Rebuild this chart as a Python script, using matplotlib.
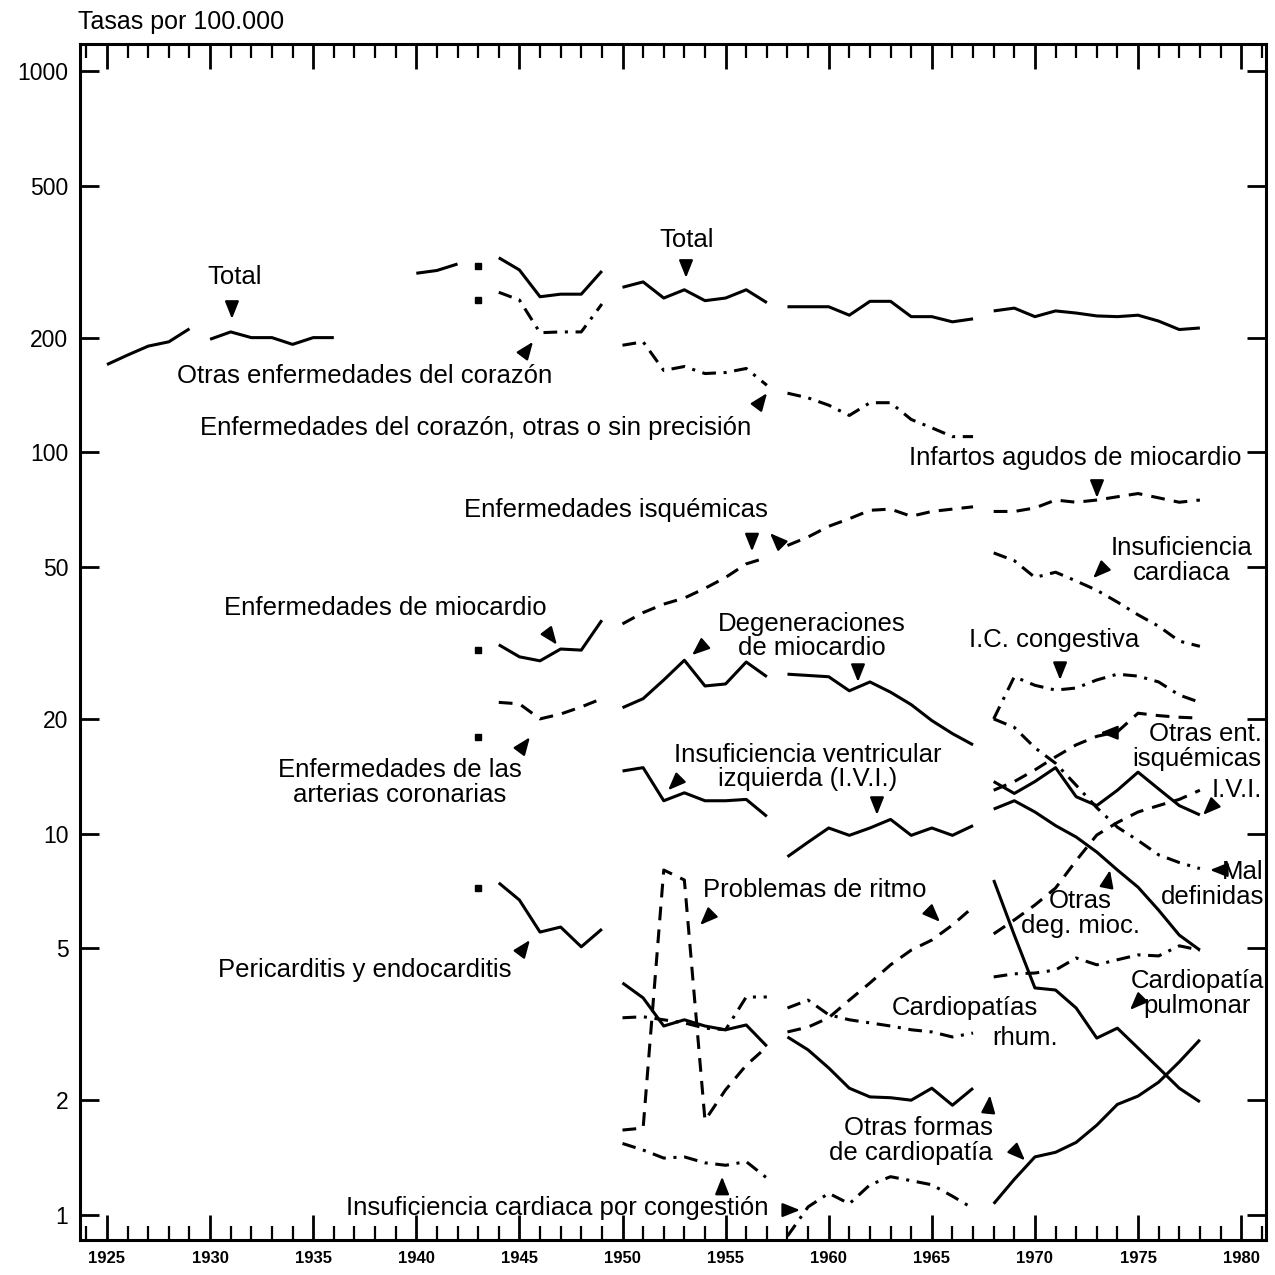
import matplotlib
matplotlib.use('Agg')
from matplotlib import pyplot as plt
from matplotlib.ticker import NullLocator

plt.rcParams['font.family'] = ['Liberation Sans', 'DejaVu Sans']

# periods: the series break at every revision of the classification
yrs_25 = [1925, 1926, 1927, 1928, 1929]
yrs_30 = [1930, 1931, 1932, 1933, 1934, 1935, 1936]
yrs_40 = [1940, 1941, 1942]
yrs_44 = [1944, 1945, 1946, 1947, 1948, 1949]
yrs_50 = [1950, 1951, 1952, 1953, 1954, 1955, 1956, 1957]
yrs_58 = [1958, 1959, 1960, 1961, 1962, 1963, 1964, 1965, 1966, 1967]
yrs_68 = [1968, 1969, 1970, 1971, 1972, 1973, 1974, 1975, 1976, 1977, 1978]

# 1943 isolated points (marked with small squares)
yr_1943 = 1943
vals_1943 = [308, 251, 30.3, 17.9, 7.2]

# Total
total_25 = [170, 180, 190, 195, 211]
total_30 = [198, 207, 200, 200, 192, 200, 200]
total_40 = [295, 300, 312]
total_44 = [324, 301, 256, 260, 260, 299]
total_50 = [271, 280, 254, 267, 250, 254, 267, 247]
total_58 = [241, 241, 241, 229, 249, 249, 227, 227, 220, 224]
total_68 = [235, 239, 227, 235, 232, 228, 227, 229, 221, 210, 212]

# dash-dot series
otras_corazon_44 = [263, 251, 206, 207, 207, 245]
sin_precision_50 = [191, 195, 164, 168, 161, 162, 166, 150]
sin_precision_58 = [143, 139, 133, 125, 135, 135, 122, 116, 110, 110]
insuf_cardiaca_68 = [54.5, 52, 47, 48.5, 46, 43.5, 40.5, 37.5, 35, 32, 31]
ic_congestiva_68 = [20, 25.8, 24.5, 23.8, 24.1, 25.3, 26.2, 25.9, 25, 23.1, 22.1]
mal_definidas_68 = [20, 19.0, 16.8, 15.3, 13.4, 11.7, 10.4, 9.6, 8.8, 8.4, 8.1]
rhum_50 = [3.29, 3.31, 3.25, 3.19, 3.09, 3.06, 3.73, 3.73]
rhum_58 = [3.49, 3.66, 3.35, 3.25, 3.19, 3.13, 3.06, 3.02, 2.93, 3.0]
rhum_68 = [4.21, 4.29, 4.31, 4.39, 4.72, 4.53, 4.67, 4.81, 4.78, 5.08, 4.95]
congestion_50 = [1.54, 1.48, 1.41, 1.42, 1.37, 1.35, 1.38, 1.25]
congestion_58 = [0.88, 1.05, 1.14, 1.07, 1.2, 1.26, 1.23, 1.2, 1.12, 1.04]

# dashed series
coronarias_44 = [22.1, 21.9, 20.0, 20.6, 21.5, 22.6]
isquemicas_50 = [35.5, 38, 40, 41.5, 44, 47, 51, 53]
isquemicas_58 = [57, 60, 64, 67, 70.5, 71, 68, 70, 71, 72]
infartos_68 = [70, 70, 71.5, 75, 74, 75, 76.5, 78, 76, 74, 75]
otras_isq_68 = [13.0, 13.7, 14.7, 15.9, 17.1, 18.0, 18.5, 20.7, 20.4, 20.2, 20.1]
ritmo_50 = [1.67, 1.69, 8.03, 7.56, 1.77, 2.13, 2.47, 2.76]
ritmo_58 = [3.02, 3.11, 3.29, 3.66, 4.06, 4.53, 4.95, 5.26, 5.76, 6.42]
ritmo_68 = [5.46, 5.94, 6.5, 7.2, 8.5, 9.92, 10.7, 11.4, 11.85, 12.3, 13.0]

# solid series
miocardio_44 = [31.3, 29.1, 28.4, 30.5, 30.3, 36.3]
pericarditis_44 = [7.43, 6.7, 5.52, 5.69, 5.05, 5.62]
degener_50 = [21.4, 22.6, 25.3, 28.5, 24.4, 24.7, 28.2, 25.8]
degener_58 = [26.2, 26.0, 25.8, 23.7, 25.0, 23.5, 21.8, 19.8, 18.3, 17.1]
ivi_50 = [14.6, 14.9, 12.2, 12.8, 12.2, 12.2, 12.3, 11.1]
ivi_58 = [8.7, 9.5, 10.35, 9.9, 10.35, 10.9, 9.9, 10.35, 9.9, 10.5]
ivi_68 = [13.7, 12.75, 13.7, 14.9, 12.5, 11.85, 13.0, 14.5, 13.1, 11.85, 11.2]
otras_deg_68 = [11.6, 12.2, 11.4, 10.5, 9.8, 8.95, 8.03, 7.24, 6.3, 5.42, 4.95]
pulmonar_68 = [7.56, 5.42, 3.94, 3.89, 3.49, 2.91, 3.09, 2.74, 2.43, 2.15, 1.98]
otras_formas_50 = [4.06, 3.71, 3.13, 3.25, 3.13, 3.06, 3.15, 2.77]
otras_formas_58 = [2.93, 2.71, 2.43, 2.15, 2.04, 2.03, 2.0, 2.15, 1.94, 2.15]
otras_formas_68 = [1.07, 1.24, 1.42, 1.46, 1.55, 1.72, 1.95, 2.05, 2.23, 2.52, 2.88]

ytick_vals = [1, 2, 5, 10, 20, 50, 100, 200, 500, 1000]

SOLID = '-'
DASH = (0, (4.5, 3))
DASHDOT = (0, (4.5, 2.5, 1, 2.5))
LW = 2.2

fig = plt.figure(figsize=(12.75, 12.75), dpi=100)
ax = fig.add_axes([0.0624, 0.0275, 0.9306, 0.938])
ax.set_yscale('log')
ax.set_xlim(1923.67, 1981.21)
ax.set_ylim(0.86, 1178)

def line(x, y, style):
    ax.plot(x, y, color='k', lw=LW, linestyle=style, solid_capstyle='butt',
            dash_capstyle='butt')

for x, y in [(yrs_25, total_25), (yrs_30, total_30), (yrs_40, total_40),
             (yrs_44, total_44), (yrs_50, total_50), (yrs_58, total_58),
             (yrs_68, total_68), (yrs_44, miocardio_44), (yrs_44, pericarditis_44),
             (yrs_50, degener_50), (yrs_58, degener_58), (yrs_50, ivi_50),
             (yrs_58, ivi_58), (yrs_68, ivi_68), (yrs_68, otras_deg_68),
             (yrs_68, pulmonar_68), (yrs_50, otras_formas_50),
             (yrs_58, otras_formas_58), (yrs_68, otras_formas_68)]:
    line(x, y, SOLID)

for x, y in [(yrs_44, coronarias_44), (yrs_50, isquemicas_50), (yrs_58, isquemicas_58),
             (yrs_68, infartos_68), (yrs_68, otras_isq_68), (yrs_50, ritmo_50),
             (yrs_58, ritmo_58), (yrs_68, ritmo_68)]:
    line(x, y, DASH)

for x, y in [(yrs_44, otras_corazon_44), (yrs_50, sin_precision_50),
             (yrs_58, sin_precision_58), (yrs_68, insuf_cardiaca_68),
             (yrs_68, ic_congestiva_68), (yrs_68, mal_definidas_68),
             (yrs_50, rhum_50), (yrs_58, rhum_58), (yrs_68, rhum_68),
             (yrs_50, congestion_50), (yrs_58, congestion_58)]:
    line(x, y, DASHDOT)

ax.plot([yr_1943] * len(vals_1943), vals_1943, linestyle='none', marker='s',
        markersize=5, color='k')

# labels
FS = 18.5
def label(x, y, s, ha='center'):
    ax.text(x, y, s, ha=ha, va='center', fontsize=FS, linespacing=1.05)

label(1931.21, 288, 'Total')
label(1953.13, 360, 'Total')
label(1937.51, 158.6, 'Otras enfermedades del corazón')
label(1942.9, 115.9, 'Enfermedades del corazón, otras o sin precisión')
label(1971.94, 96.7, 'Infartos agudos de miocardio')
label(1949.69, 70.6, 'Enfermedades isquémicas')
label(1977.13, 52.2, 'Insuficiencia\ncardiaca')
label(1938.48, 39.1, 'Enfermedades de miocardio')
label(1959.19, 33.0, 'Degeneraciones\nde miocardio')
label(1970.93, 32.2, 'I.C. congestiva')
label(1981.0, 16.9, 'Otras ent.\nisquémicas', ha='right')
label(1939.21, 13.66, 'Enfermedades de las\narterias coronarias')
label(1959.0, 14.96, 'Insuficiencia ventricular\nizquierda (I.V.I.)')
label(1981.0, 13.02, 'I.V.I.', ha='right')
label(1981.1, 7.34, 'Mal\ndefinidas', ha='right')
label(1972.19, 6.19, 'Otras\ndeg. mioc.')
label(1959.34, 7.12, 'Problemas de ritmo')
label(1937.51, 4.39, 'Pericarditis y endocarditis')
label(1977.86, 3.80, 'Cardiopatía\npulmonar')
label(1966.61, 3.49, 'Cardiopatías')
label(1969.52, 2.91, 'rhum.')
label(1967.97, 1.57, 'Otras formas\nde cardiopatía', ha='right')
label(1946.82, 1.04, 'Insuficiencia cardiaca por congestión')

# small arrowheads pointing at the curves
def arrow(x, y, dx, dy):
    ax.annotate('', xy=(x, y), xytext=(-dx * 12, -dy * 12), textcoords='offset points',
                arrowprops=dict(arrowstyle='-|>,head_length=1.05,head_width=0.42',
                                color='k', lw=1.6, shrinkA=0, shrinkB=0))

arrow(1931.06, 224, 0, -1)
arrow(1945.66, 195, 0.6, 0.8)
arrow(1953.08, 287, 0, -1)
arrow(1957.01, 143, 0.6, 0.8)
arrow(1973.01, 76, 0, -1)
arrow(1956.28, 55, 0, -1)
arrow(1957.15, 61.4, -0.7, 0.7)
arrow(1972.82, 46.8, -0.7, -0.7)
arrow(1946.82, 31.3, 0.6, -0.8)
arrow(1953.37, 29.4, -0.75, -0.65)
arrow(1961.42, 25.0, 0, -1)
arrow(1971.22, 25.3, 0, -1)
arrow(1973.16, 18.4, -1, 0)
arrow(1978.15, 11.2, -0.7, -0.7)
arrow(1978.49, 8.03, -1, 0)
arrow(1973.64, 8.03, 0.2, 1)
arrow(1974.61, 3.45, -0.7, -0.7)
arrow(1945.51, 17.9, 0.6, 0.8)
arrow(1952.21, 13.0, -0.7, -0.7)
arrow(1962.34, 11.2, 0, -1)
arrow(1953.76, 5.76, -0.7, -0.7)
arrow(1965.40, 5.87, 0.7, -0.7)
arrow(1945.51, 5.26, 0.6, 0.8)
arrow(1967.82, 2.06, 0.1, 1)
arrow(1969.52, 1.39, 0.7, -0.7)
arrow(1954.83, 1.26, 0, 1)
arrow(1958.61, 1.03, 1, 0)

# axes and ticks
ax.set_xticks(list(range(1925, 1981, 5)))
ax.set_xticks(list(range(1924, 1982)), minor=True)
ax.set_xticklabels([str(y) for y in range(1925, 1981, 5)], fontsize=12,
                   fontweight='bold')
ax.set_yticks(ytick_vals)
ax.set_yticklabels([str(v) for v in ytick_vals], fontsize=16.5)
ax.yaxis.set_minor_locator(NullLocator())
ax.tick_params(axis='x', which='major', direction='in', length=18, width=2,
               top=True, bottom=True, pad=8)
ax.tick_params(axis='x', which='minor', direction='in', length=10, width=1.6,
               top=True, bottom=True)
ax.tick_params(axis='y', which='major', direction='in', length=14, width=2,
               left=True, right=True, pad=8)
for sp in ax.spines.values():
    sp.set_linewidth(2.2)

fig.text(0.0612, 0.9827, 'Tasas por 100.000', ha='left', va='center', fontsize=18)

fig.savefig('out.png', dpi=100)
